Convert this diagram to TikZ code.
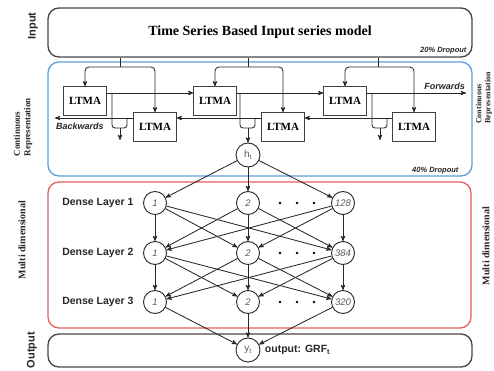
\documentclass[tikz,border=0pt]{standalone}
\usepackage{fontspec}
\setmainfont{Liberation Serif}
\setsansfont{Liberation Sans}
\usetikzlibrary{positioning,arrows}
\definecolor{boxgray}{RGB}{70,70,70}
\definecolor{repblue}{RGB}{95,158,218}
\definecolor{mdred}{RGB}{226,96,96}
\definecolor{wire}{RGB}{40,40,40}

\begin{document}
\begin{tikzpicture}[x=1pt,y=-1pt,
    panel/.style={rectangle,rounded corners=11pt,line width=1.3pt,draw,inner sep=0pt},
    ltma/.style={rectangle,draw=black!75,fill=white,minimum width=43pt,minimum height=29pt,
		font=\fontsize{11}{13}\selectfont\bfseries},
    neuron/.style={circle,draw=wire,line width=0.9pt,fill=white,minimum size=23pt,inner sep=0pt,
		font=\sffamily\itshape\fontsize{9.5}{10}\selectfont,text=black!65},
    conn/.style={->,draw=wire,line width=0.85pt},
    link/.style={draw=wire,line width=0.85pt},
% Label styles
    stagelbl/.style={rotate=90,font=\sffamily\bfseries\fontsize{11}{13}\selectfont,text=black!85},
    sidelbl/.style={rotate=90,font=\bfseries\fontsize{9}{10.5}\selectfont,text=black!85},
    layerlbl/.style={font=\sffamily\bfseries\fontsize{10.5}{12}\selectfont,text=black!85},
    arrlbl/.style={font=\sffamily\bfseries\itshape\fontsize{9}{10}\selectfont,text=black!85,inner sep=1pt},
    droplbl/.style={font=\sffamily\bfseries\itshape\fontsize{7.5}{9}\selectfont,text=black!85,inner sep=1pt},
    >=stealth'
    ]
   \useasboundingbox (0,0) rectangle (494,371);
%%% Stage boxes
   \node [panel,draw=boxgray,minimum width=424pt,minimum height=49pt] (inbox) at (260,32.5)
	{\fontsize{14}{16}\selectfont\bfseries Time Series Based Input series model};
   \node [panel,draw=repblue,minimum width=424pt,minimum height=114pt] (repbox) at (260,119) {};
   \node [panel,draw=mdred,minimum width=423pt,minimum height=146pt] (mdbox) at (259.5,255) {};
   \node [panel,draw=boxgray,minimum width=424pt,minimum height=33pt] (outbox) at (260,350.5) {};
   \node [droplbl,anchor=south east] (drop1) at ([xshift=-5pt,yshift=2pt]inbox.south east) {20\% Dropout};
   \node [droplbl,anchor=south east] (drop2) at ([xshift=-13pt,yshift=1pt]repbox.south east) {40\% Dropout};

%%% Side labels
   \node [stagelbl] (inlbl) at (33,26) {Input};
   \node [stagelbl] (outstage) at (32,350) {Output};
   \node [sidelbl,anchor=west,align=left] (replbl) at (23,160) {Continuous\\Representation};
   \node [sidelbl,anchor=west,align=left,inner sep=1pt,font=\bfseries\fontsize{8}{9}\selectfont]
	(replbr) at (484,125) {Continuous\\Representation};
   \node [sidelbl,font=\bfseries\fontsize{10}{12}\selectfont] (mdlbl) at (22,240) {Multi dimensional};
   \node [sidelbl,font=\bfseries\fontsize{10}{12}\selectfont] (mdlbr) at (486,246) {Multi dimensional};

%%% LTMA cells
   \node [ltma] (up1) at (85,101) {LTMA};
   \node [ltma] (lo1) at (155,127) {LTMA};
   \node [ltma] (up2) at (215,101) {LTMA};
   \node [ltma] (lo2) at (283,127) {LTMA};
   \node [ltma] (up3) at (345,101) {LTMA};
   \node [ltma] (lo3) at (414,127) {LTMA};
   \foreach \i/\x in {1/120,2/248,3/378} {
       \coordinate (f\i) at (\x,67);
       \draw[link] (f\i |- inbox.south) -- (f\i);
       \draw[conn,rounded corners=4pt] (f\i) -| (up\i.north);
       \draw[conn,rounded corners=4pt] (f\i) -| (lo\i.north);
   }
   \coordinate (fwend) at (466,93);
   \coordinate (bwend) at (55,118);
   \draw[conn] ([yshift=8pt]up1.east) -- ([yshift=8pt]up2.west);
   \draw[conn] ([yshift=8pt]up2.east) -- ([yshift=8pt]up3.west);
   \draw[conn] ([yshift=8pt]up3.east) -- (fwend);
   \draw[conn] ([yshift=9pt]lo3.west) -- ([yshift=9pt]lo2.east);
   \draw[conn] ([yshift=9pt]lo2.west) -- ([yshift=9pt]lo1.east);
   \draw[conn] ([yshift=9pt]lo1.west) -- (bwend);
   \node [arrlbl,anchor=south east] (fwlbl) at ([yshift=2pt]fwend) {Forwards};
   \node [arrlbl,anchor=north west] (bwlbl) at ([yshift=-4pt]bwend) {Backwards};

%%% merge of both directions
   \node [neuron,font=\sffamily\fontsize{10}{11}\selectfont,minimum size=24pt] (ht) at (248,155) {h\textsubscript{t}};
   \foreach \i/\x in {1/120,2/248,3/380} {
       \coordinate (m\i) at (\x,128);
       \draw[link,rounded corners=3pt] ([xshift=-8pt,yshift=35pt]m\i) |- ([xshift=7pt]m\i)
		-- ([xshift=7pt,yshift=10pt]m\i);
   }
   \coordinate (o1) at (120,140);
   \coordinate (o3) at (380,140);
   \draw[conn] (m1) -- (o1);
   \draw[conn] (m2) -- (ht);
   \draw[conn] (m3) -- (o3);

%%% Dense layers
   \foreach \row/\y/\last in {1/203/128,2/253/384,3/302/320} {
       \node [neuron] (n\row1) at (155,\y) {1};
       \node [neuron] (n\row2) at (248,\y) {2};
       \node [neuron] (n\row3) at (343,\y) {\last};
       \node [layerlbl,left=6pt of n\row1] (lay\row) {Dense Layer \row};
       \foreach \dx in {32,49,66} \fill[black] ([xshift=\dx pt]n\row2) circle (1.4pt);
   }
   \node [neuron,font=\sffamily\fontsize{10}{11}\selectfont,minimum size=24pt] (yt) at (248,350) {y\textsubscript{t}};
   \node [layerlbl,right=1pt of yt] (outlbl) {output: GRF\textsubscript{t}};
   \foreach \i in {1,2,3} \draw[conn] (ht) -- (n1\i);
   \foreach \a/\b in {1/2,2/3}
       \foreach \i in {1,2,3}
           \foreach \j in {1,2,3} \draw[conn] (n\a\i) -- (n\b\j);
   \foreach \i in {1,2,3} \draw[conn] (n3\i) -- (yt);
\end{tikzpicture}
\end{document}
